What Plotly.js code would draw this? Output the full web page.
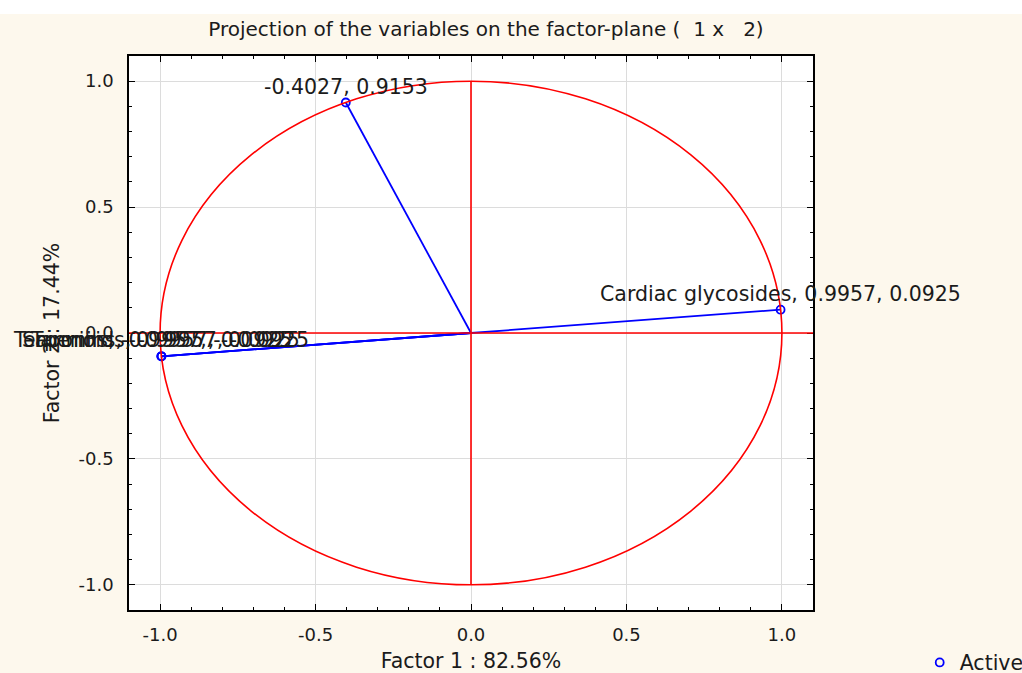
<!DOCTYPE html>
<html>
<head>
<meta charset="utf-8">
<script src="https://cdn.plot.ly/plotly-3.0.1.min.js"></script>
<style>
  html, body { margin: 0; padding: 0; background: #ffffff; }
  #wrap { padding-top: 14px; width: 1022px; height: 659px; }
  #chart { width: 1022px; height: 659px; }
</style>
</head>
<body>
<div id="wrap"><div id="chart"></div></div>
<script>
// ---- data ----
const varNames = ["", "Cardiac glycosides", "Terpenoids", "Saponins", "Tannins"];
const factor1  = [-0.4027, 0.9957, -0.9957, -0.9957, -0.9957];
const factor2  = [ 0.9153, 0.0925, -0.0925, -0.0925, -0.0925];
const xTitle = "Factor 1 : 82.56%";
const yTitle = "Factor 2 : 17.44%";
const chartTitle = "Projection of the variables on the factor-plane (  1 x   2)";
const legendName = "Active";
const tickVals = [-1.0, -0.5, 0.0, 0.5, 1.0];
const tickText = ["-1.0", "-0.5", "0.0", "0.5", "1.0"];

const FONT = "DejaVu Sans, Arial, sans-serif";
const TXT = "#1b1b1b";

const traces = [];
// vectors from origin
for (let i = 0; i < factor1.length; i++) {
  traces.push({
    type: "scatter", mode: "lines",
    x: [0, factor1[i]], y: [0, factor2[i]],
    line: { color: "#0000ff", width: 1.8 },
    showlegend: false, hoverinfo: "skip"
  });
}
// endpoint markers
traces.push({
  type: "scatter", mode: "markers",
  x: factor1, y: factor2, name: legendName,
  marker: { symbol: "circle-open", color: "#0000ff", size: 8, line: { width: 1.8, color: "#0000ff" } },
  showlegend: true
});

const annotations = factor1.map((fx, i) => ({
  x: fx, y: factor2[i], xref: "x", yref: "y",
  text: (varNames[i] ? varNames[i] + ", " : "") + fx.toFixed(4) + ", " + factor2[i].toFixed(4),
  showarrow: false, yanchor: "bottom", xanchor: "center", yshift: 2,
  font: { family: FONT, size: 20.5, color: TXT }
}));

const axisCommon = {
  range: [-1.1, 1.1],
  tickmode: "array", tickvals: tickVals, ticktext: tickText,
  showgrid: true, gridcolor: "#dcdcdc", gridwidth: 1.2,
  zeroline: false,
  showline: true, linecolor: "#000000", linewidth: 1.5, mirror: "ticks",
  ticks: "inside", ticklen: 6, tickcolor: "#000000", tickwidth: 1.2,
  minor: { dtick: 0.1, ticks: "inside", ticklen: 3, tickcolor: "#000000", showgrid: false },
  tickfont: { family: FONT, size: 18, color: TXT },
  fixedrange: true
};

const layout = {
  width: 1022, height: 659,
  margin: { l: 129, r: 209, t: 42, b: 63, autoexpand: false },
  paper_bgcolor: "#fdf8ed",
  plot_bgcolor: "#ffffff",
  title: { text: chartTitle, xref: "container", x: 0.4755, xanchor: "center",
           yref: "container", y: 0.988, yanchor: "top",
           font: { family: FONT, size: 20, color: TXT } },
  xaxis: Object.assign({}, axisCommon, {
    title: { text: xTitle, font: { family: FONT, size: 20.5, color: TXT }, standoff: 11 },
    ticklabelstandoff: 8
  }),
  yaxis: Object.assign({}, axisCommon, {
    title: { text: yTitle, font: { family: FONT, size: 20.5, color: TXT }, standoff: 13 },
    ticklabelstandoff: 10
  }),
  showlegend: true,
  legend: { x: 1.156, xanchor: "left", y: -0.095, yanchor: "middle",
            bgcolor: "rgba(0,0,0,0)", font: { family: FONT, size: 20.5, color: TXT },
            itemwidth: 30 },
  shapes: [
    { type: "circle", xref: "x", yref: "y", x0: -1, y0: -1, x1: 1, y1: 1,
      line: { color: "#ff0000", width: 1.6 }, layer: "above" },
    { type: "line", xref: "paper", yref: "y", x0: 0, x1: 1, y0: 0, y1: 0,
      line: { color: "#ff0000", width: 1.6 }, layer: "above" },
    { type: "line", xref: "x", yref: "y", x0: 0, x1: 0, y0: -1, y1: 1,
      line: { color: "#ff0000", width: 1.6 }, layer: "above" }
  ],
  annotations: annotations
};

Plotly.newPlot("chart", traces, layout, { displayModeBar: false, responsive: false });
</script>
</body>
</html>
